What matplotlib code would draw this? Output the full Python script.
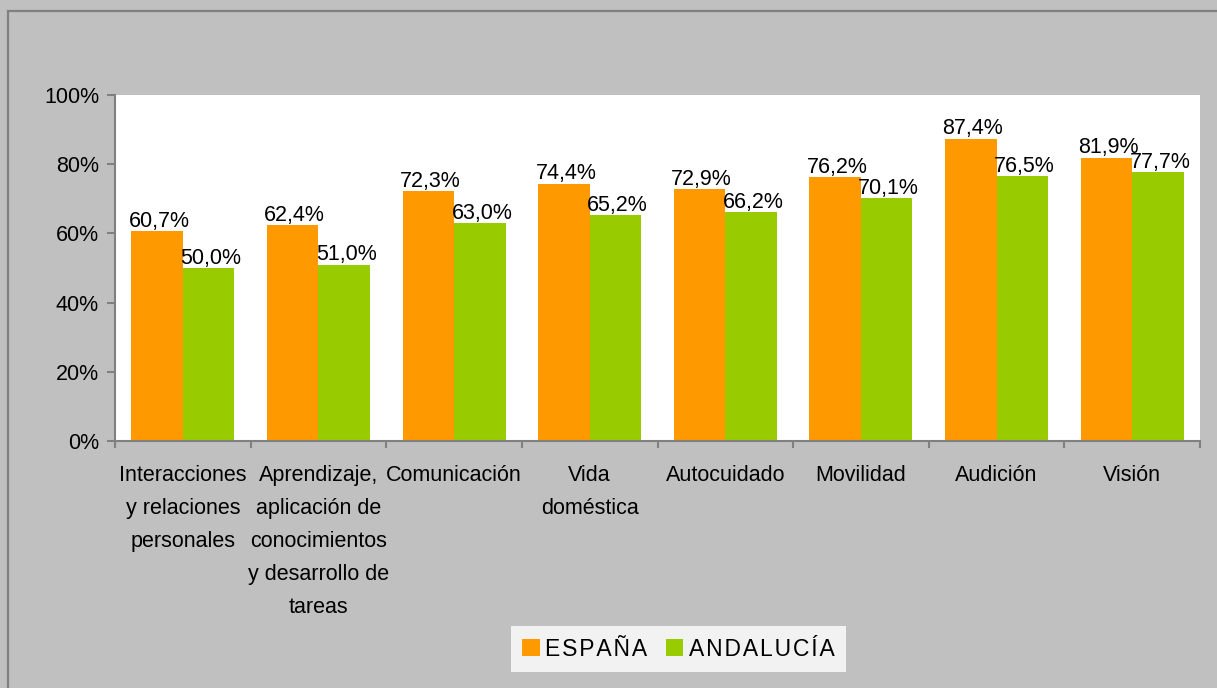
import numpy as np
import matplotlib
matplotlib.use("Agg")
from matplotlib import pyplot as plt
from matplotlib.patches import Patch, Rectangle

# data
categories = ["Interacciones\ny relaciones\npersonales",
              "Aprendizaje,\naplicación de\nconocimientos\ny desarrollo de\ntareas",
              "Comunicación", "Vida\ndoméstica", "Autocuidado", "Movilidad",
              "Audición", "Visión"]
espana = [60.7, 62.4, 72.3, 74.4, 72.9, 76.2, 87.4, 81.9]
andalucia = [50.0, 51.0, 63.0, 65.2, 66.2, 70.1, 76.5, 77.7]
series_names = ["ESPAÑA", "ANDALUCÍA"]
yticks = [0, 20, 40, 60, 80, 100]

plt.rcParams['font.family'] = ['Liberation Sans', 'DejaVu Sans']
plt.rcParams['font.size'] = 15.5

fig = plt.figure(figsize=(12.17, 6.88), dpi=100)
fig.patch.set_facecolor('#C0C0C0')
# chart border
fig.patches.append(Rectangle((8 / 1217, -0.1), 1.2, 1 - 11 / 688 + 0.1, transform=fig.transFigure,
                             fill=False, edgecolor='#808080', linewidth=1.6))

ax = fig.add_axes([115 / 1217, 1 - 441 / 688, 1085 / 1217, 346 / 688])
ax.set_facecolor('white')

x = np.arange(len(categories))
w = 0.38
b1 = ax.bar(x - w / 2, espana, w, color='#FF9900')
b2 = ax.bar(x + w / 2, andalucia, w, color='#99CC00')

for bars, vals in [(b1, espana), (b2, andalucia)]:
    for r, v in zip(bars, vals):
        ax.annotate(f"{v:.1f}%".replace('.', ','), (r.get_x() + r.get_width() / 2 + 0.015, r.get_height()),
                    xytext=(0, 3), textcoords='offset points', ha='center', va='baseline')

ax.set_xlim(-0.5, len(categories) - 0.5)
ax.set_ylim(0, 100)
ax.set_yticks(yticks)
ax.set_yticklabels([f"{t}%" for t in yticks])
ax.set_xticks(x)
ax.set_xticklabels(categories, linespacing=1.76, va='top')
ax.set_xticks(np.arange(len(categories) + 1) - 0.5, minor=True)
ax.tick_params(axis='x', which='major', length=0, pad=17)
ax.tick_params(axis='x', which='minor', length=5, color='#808080', width=1.5)
ax.tick_params(axis='y', length=5.5, color='#808080', width=1.5, pad=6)

for s in ['top', 'right']:
    ax.spines[s].set_visible(False)
for s in ['left', 'bottom']:
    ax.spines[s].set_color('#808080')
    ax.spines[s].set_linewidth(1.5)

handles = [Patch(facecolor='#FF9900'), Patch(facecolor='#99CC00')]
labels = ["\u200a".join(n) for n in series_names]
leg = fig.legend(handles, labels, loc='center', ncol=2,
                 bbox_to_anchor=(678.5 / 1217, 1 - 649 / 688),
                 frameon=True, fancybox=False, facecolor='white', edgecolor='white',
                 handlelength=0.75, handleheight=0.75, handletextpad=0.25, columnspacing=0.8,
                 borderpad=0.5, prop={'size': 16.5})
leg.get_frame().set_linewidth(0)

plt.savefig('out.png', dpi=100, facecolor=fig.get_facecolor())
plt.close()
